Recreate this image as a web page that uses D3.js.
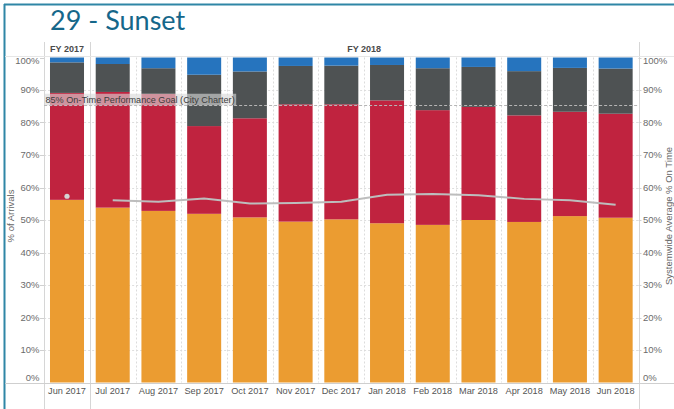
<!DOCTYPE html>
<html>
<head>
<meta charset="utf-8">
<script src="https://cdn.jsdelivr.net/npm/d3@7/dist/d3.min.js"></script>
<style>
  html, body { margin: 0; padding: 0; background: #fff; }
  svg { display: block; }
  text { font-family: "Liberation Sans", Arial, sans-serif; }
</style>
</head>
<body>
<svg id="chart" width="674" height="409"></svg>
<script>
// Monthly share of arrivals by category (percent), route 29 - Sunset
const months = ["Jun 2017","Jul 2017","Aug 2017","Sep 2017","Oct 2017","Nov 2017","Dec 2017",
                "Jan 2018","Feb 2018","Mar 2018","Apr 2018","May 2018","Jun 2018"];
const fiscalYears = ["FY 2017","FY 2018","FY 2018","FY 2018","FY 2018","FY 2018","FY 2018",
                     "FY 2018","FY 2018","FY 2018","FY 2018","FY 2018","FY 2018"];
const onTime   = [56.2, 53.8, 52.8, 51.9, 50.8, 49.5, 50.2, 49.0, 48.5, 50.0, 49.4, 51.2, 50.7];
const late     = [32.9, 35.6, 36.0, 27.0, 30.5, 36.1, 35.4, 37.8, 35.3, 34.8, 32.8, 32.1, 32.0];
const veryLate = [ 9.4,  8.6,  7.9, 15.8, 14.4, 11.8, 11.9, 10.9, 12.9, 12.3, 13.6, 13.5, 13.9];
const early    = [ 1.5,  2.0,  3.3,  5.3,  4.3,  2.6,  2.5,  2.3,  3.3,  2.9,  4.2,  3.2,  3.4];
// Systemwide average % on time (right axis)
const systemwide = [57.3, 56.1, 55.6, 56.6, 55.1, 55.2, 55.6, 57.8, 58.0, 57.6, 56.5, 56.1, 54.7];
const goalValue = 85;
const goalLabel = "85% On-Time Performance Goal (City Charter)";
const yTicks = [0,10,20,30,40,50,60,70,80,90,100];

const seriesKeys = ["onTime","late","veryLate","early"];
const seriesColors = { onTime: "#eb9c31", late: "#c0233f", veryLate: "#4e5253", early: "#2674be" };

const rows = months.map((m, i) => ({
  month: m, fy: fiscalYears[i],
  onTime: onTime[i], late: late[i], veryLate: veryLate[i], early: early[i],
  avg: systemwide[i]
}));

const svg = d3.select("#chart");
const W = 674, H = 409;
const plotL = 44.14, plotR = 638.5, plotT = 57.5, plotB = 382.5;

const x = d3.scaleBand().domain(months).range([plotL, plotR]).paddingInner(0.256).paddingOuter(0.128);
const y = d3.scaleLinear().domain([0, 100]).range([plotB, plotT]);
const step = x.step();

// frame
svg.append("line").attr("x1", 4).attr("x2", W).attr("y1", 4.5).attr("y2", 4.5)
  .attr("stroke", "#2f86a6").attr("stroke-width", 2);
svg.append("line").attr("x1", 4.5).attr("x2", 4.5).attr("y1", 4).attr("y2", H)
  .attr("stroke", "#2f86a6").attr("stroke-width", 2);

// title
svg.append("text").attr("x", 50).attr("y", 29.5).text("29 - Sunset")
  .style("font-family", "Lato, 'Open Sans', sans-serif").style("font-size", "27px").attr("fill", "#15678a");

// horizontal gridlines
svg.append("g").selectAll("line").data(yTicks.filter(t => t > 0 && t < 100)).join("line")
  .attr("x1", plotL).attr("x2", plotR).attr("y1", d => Math.round(y(d)) + 0.5).attr("y2", d => Math.round(y(d)) + 0.5)
  .attr("stroke", "#dedede").attr("stroke-dasharray", "2,2");

// vertical dotted separators between months
const boundaries = months.slice(1).map(m => x(m) - x.step() * x.paddingInner() / 2);
svg.append("g").selectAll("line").data(boundaries.filter((b, i) => fiscalYears[i] === fiscalYears[i + 1])).join("line")
  .attr("x1", d => Math.round(d) + 0.5).attr("x2", d => Math.round(d) + 0.5)
  .attr("y1", plotT).attr("y2", plotB)
  .attr("stroke", "#dcdcdc").attr("stroke-dasharray", "2,2");

// pane lines
const fyPanes = d3.groups(rows, d => d.fy).map(([fy, rs]) => ({
  fy, x0: x(rs[0].month) - step * x.paddingInner() / 2,
  x1: x(rs[rs.length - 1].month) + x.bandwidth() + step * x.paddingInner() / 2
}));
const paneEdges = [plotL, ...fyPanes.map(p => p.x1)];
svg.append("g").selectAll("line").data(paneEdges).join("line")
  .attr("x1", d => Math.round(d) + 0.5).attr("x2", d => Math.round(d) + 0.5)
  .attr("y1", 42).attr("y2", H)
  .attr("stroke", "#d6d6d6");
svg.append("line").attr("x1", 5).attr("x2", W).attr("y1", 56.5).attr("y2", 56.5).attr("stroke", "#e6e6e6");

// fiscal year headers
svg.append("g").selectAll("text").data(fyPanes).join("text")
  .attr("x", d => (d.x0 + d.x1) / 2).attr("y", 52).attr("text-anchor", "middle")
  .style("font-size", "9px").style("font-weight", "bold").attr("fill", "#4a4a4a")
  .text(d => d.fy);

// stacked bars
const stacked = d3.stack().keys(seriesKeys)(rows);
svg.append("g").selectAll("g").data(stacked).join("g")
  .attr("fill", d => seriesColors[d.key])
  .selectAll("rect").data(d => d).join("rect")
  .attr("x", d => x(d.data.month)).attr("width", x.bandwidth())
  .attr("y", d => y(d[1])).attr("height", d => y(d[0]) - y(d[1]));

// goal reference line and label
svg.append("line").attr("x1", plotL).attr("x2", plotR)
  .attr("y1", Math.round(y(goalValue)) - 0.5).attr("y2", Math.round(y(goalValue)) - 0.5)
  .attr("stroke", "#b5b5b5").attr("stroke-dasharray", "3,2");
const goalText = svg.append("text").attr("x", 45.5).attr("y", y(goalValue) - 3.5)
  .style("font-size", "9.1px").attr("fill", "#3c3c3c").text(goalLabel);
const gb = goalText.node().getBBox();
svg.insert("rect", () => goalText.node())
  .attr("x", 45).attr("y", y(goalValue) - 12.5).attr("width", gb.width + 2).attr("height", 11.5)
  .attr("fill", "#d8d8d8").attr("fill-opacity", 0.62);

// systemwide average: one line per fiscal-year pane, single months as dots
const line = d3.line().x(d => x(d.month) + x.bandwidth() / 2).y(d => y(d.avg));
d3.groups(rows, d => d.fy).forEach(([fy, rs]) => {
  if (rs.length > 1) {
    svg.append("path").datum(rs).attr("d", line)
      .attr("fill", "none").attr("stroke", "#bdbdbd").attr("stroke-width", 2);
  } else {
    svg.append("circle").attr("cx", x(rs[0].month) + x.bandwidth() / 2).attr("cy", y(rs[0].avg))
      .attr("r", 2.6).attr("fill", "#d4d4d4");
  }
});

// baseline
svg.append("line").attr("x1", 5).attr("x2", W).attr("y1", 383.5).attr("y2", 383.5).attr("stroke", "#cfcfcf");

// left axis
const fmt = d => d + "%";
const clampY = d => Math.min(Math.max(y(d), 61), 378);
const leftAxis = svg.append("g");
leftAxis.selectAll("line").data(yTicks).join("line")
  .attr("x1", 40).attr("x2", plotL).attr("y1", d => Math.round(y(d)) + 0.5).attr("y2", d => Math.round(y(d)) + 0.5)
  .attr("stroke", "#d0d0d0");
leftAxis.selectAll("text").data(yTicks).join("text")
  .attr("x", 39.5).attr("y", d => clampY(d)).attr("dy", "0.35em").attr("text-anchor", "end")
  .style("font-size", "9.5px").attr("fill", "#6b6b6b").text(fmt);

// right axis
const rightAxis = svg.append("g");
rightAxis.selectAll("line").data(yTicks).join("line")
  .attr("x1", plotR).attr("x2", plotR + 3).attr("y1", d => Math.round(y(d)) + 0.5).attr("y2", d => Math.round(y(d)) + 0.5)
  .attr("stroke", "#d0d0d0");
rightAxis.selectAll("text").data(yTicks).join("text")
  .attr("x", 643).attr("y", d => clampY(d)).attr("dy", "0.35em").attr("text-anchor", "start")
  .style("font-size", "9.5px").attr("fill", "#6b6b6b").text(fmt);

// axis titles
svg.append("text").attr("transform", `translate(14,${(plotT + plotB) / 2 - 4}) rotate(-90)`)
  .attr("text-anchor", "middle").style("font-size", "9.5px").attr("fill", "#666").text("% of Arrivals");
svg.append("text").attr("transform", `translate(672,${(plotT + plotB) / 2 - 4}) rotate(-90)`)
  .attr("text-anchor", "middle").style("font-size", "9.5px").attr("fill", "#666").text("Systemwide Average % On Time");

// month labels
svg.append("g").selectAll("text").data(months).join("text")
  .attr("x", d => x(d) + x.bandwidth() / 2).attr("y", 393.5).attr("text-anchor", "middle")
  .style("font-size", "9.2px").attr("fill", "#555").text(d => d);
</script>
</body>
</html>
